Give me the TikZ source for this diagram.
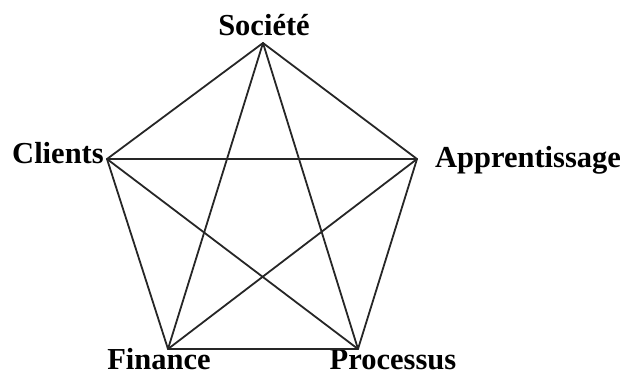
\documentclass[tikz,border=0pt]{standalone}
\usepackage{fontspec}
\setmainfont{Liberation Serif}
\begin{document}
\begin{tikzpicture}[x=1pt,y=-1pt,
  lbl/.style={font=\fontsize{30.5}{33}\selectfont\bfseries, inner sep=0pt, anchor=base},
  edge/.style={line width=1.8pt, draw=black!85, line cap=round, line join=round}]
\useasboundingbox (0,0) rectangle (625,376);
\coordinate (S) at (263,43);
\coordinate (C) at (107,159);
\coordinate (A) at (417,159);
\coordinate (F) at (168,349);
\coordinate (P) at (358,349);
\node[lbl] (lS) at (264,35) {Société};
\node[lbl] (lC) at (58,163) {Clients};
\node[lbl] (lA) at (528,167) {Apprentissage};
\node[lbl] (lF) at (159,369) {Finance};
\node[lbl] (lP) at (393,369) {Processus};
\draw[edge] (S) -- (C);
\draw[edge] (S) -- (A);
\draw[edge] (S) -- (F);
\draw[edge] (S) -- (P);
\draw[edge] (C) -- (A);
\draw[edge] (C) -- (F);
\draw[edge] (C) -- (P);
\draw[edge] (A) -- (F);
\draw[edge] (A) -- (P);
\draw[edge] (F) -- (P);
\end{tikzpicture}
\end{document}
